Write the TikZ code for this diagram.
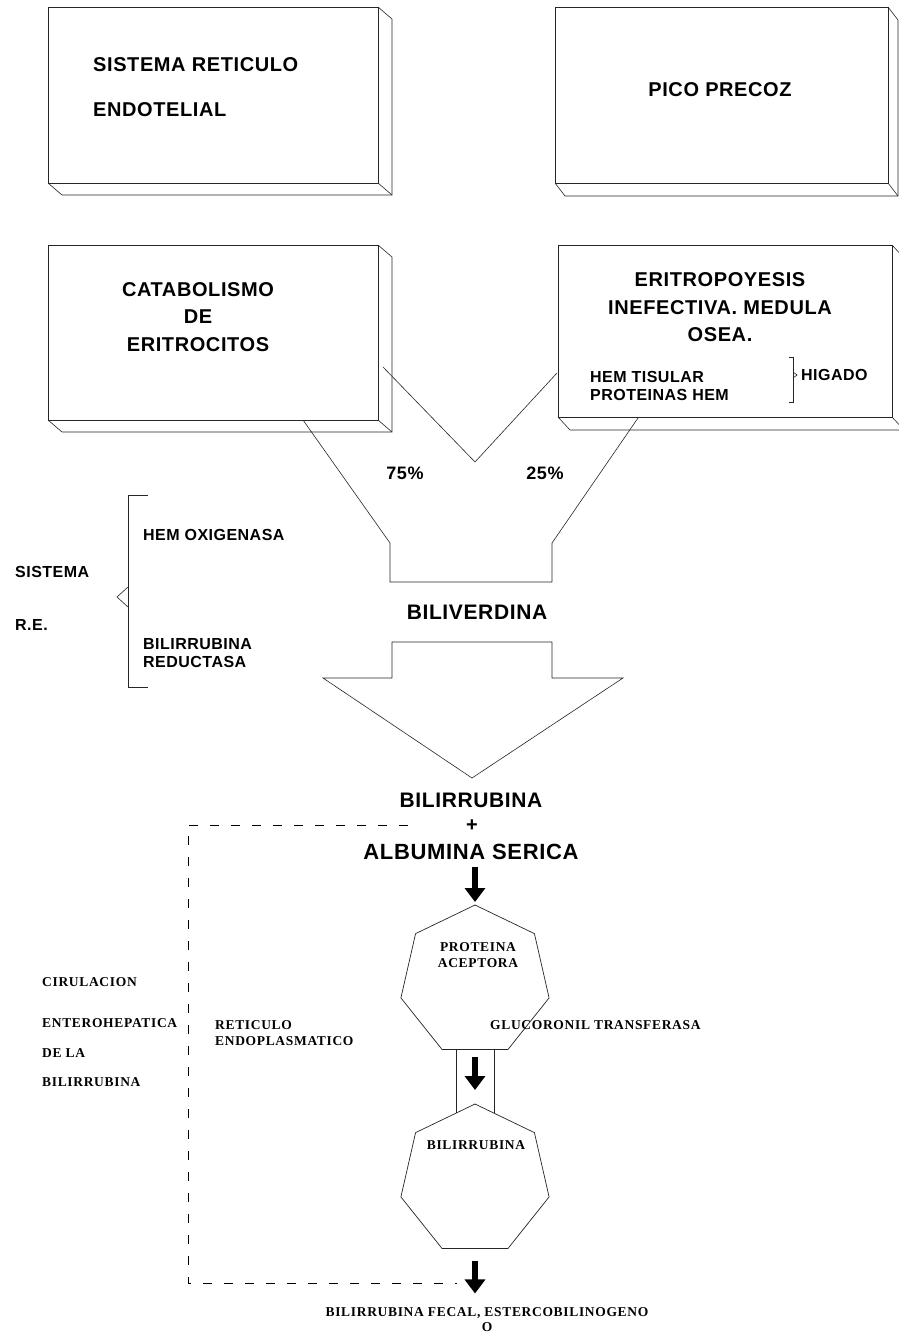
\documentclass[tikz,border=0pt]{standalone}
\usepackage{fontspec}
\setmainfont{Liberation Sans}
\newfontfamily\tsans[LetterSpace=3]{Liberation Sans}
\newfontfamily\tserif[LetterSpace=5]{Liberation Serif}
\usetikzlibrary{shapes.geometric,arrows.meta,calc}
\tikzset{
  edge/.style={line width=0.6pt, draw=black!85},
  slabbox/.style={draw=black!85, line width=0.6pt, inner sep=0pt, outer sep=0pt},
  big/.style={font=\tsans\bfseries\fontsize{20}{27.5}\selectfont, align=center, inner sep=0pt},
  mid/.style={font=\tsans\bfseries\fontsize{16}{18}\selectfont, align=left, inner sep=0pt},
  serif/.style={font=\tserif\bfseries\fontsize{13.5}{16}\selectfont, align=left, inner sep=0pt},
  hepta/.style={regular polygon, regular polygon sides=7, minimum size=152pt, inner sep=0pt, outer sep=0pt, draw=black!85, line width=0.7pt},
  blk/.style={line width=6pt, -{Triangle[width=20pt,length=14pt]}},
  dashbox/.style={line width=0.8pt, dash pattern=on 9pt off 12pt},
}
\newcommand\slab[3]{%
  \draw[edge] (#1.north east) -- ++(#2,#3) |- ([shift={(#2,#3)}]#1.south west) -- (#1.south west);
  \draw[edge] (#1.south east) -- ++(#2,#3);}
\begin{document}
\begin{tikzpicture}[x=1pt,y=-1pt]
\fill[white] (0,0) rectangle (898,1332);
\useasboundingbox (0,0) rectangle (898,1332);

% top boxes
\node[slabbox, minimum width=330pt, minimum height=176pt] (box1) at (213,95) {};
\slab{box1}{14}{12}
\node[big, anchor=west] (t1a) at (93,65) {SISTEMA RETICULO};
\node[big, anchor=west] (t1b) at (93,110) {ENDOTELIAL};

\node[slabbox, minimum width=333pt, minimum height=176pt] (box2) at (721.5,95) {};
\slab{box2}{10}{13}
\node[big] (t2) at (720,90) {PICO PRECOZ};

\node[slabbox, minimum width=330pt, minimum height=175pt] (box3) at (213,332.5) {};
\slab{box3}{14}{12}
\node[big] (t3) at (198,317) {CATABOLISMO\\DE\\ERITROCITOS};

\node[slabbox, minimum width=334pt, minimum height=172pt] (box4) at (725,331) {};
\slab{box4}{12}{13}
\node[big] (t4) at (720,307.5) {ERITROPOYESIS\\INEFECTIVA. MEDULA\\OSEA.};
\node[mid, anchor=west] (hem) at (590,386) {HEM TISULAR\\PROTEINAS HEM};
\draw[edge] (789,357) -- (793,357) -- (793,402) -- (789,402);
\draw[edge] (793,372) -- (797,375) -- (793,378);
\node[mid, anchor=west] (hig) at (801,375) {HIGADO};

% V and funnel
\draw[edge] (383,367) -- (475,462) -- (557,373);
\draw[edge] (303,420) -- (390,543) -- (390,582) -- (552,582) -- (552,543) -- (638,418);
\node[font=\tsans\bfseries\fontsize{18}{20}\selectfont, inner sep=0pt] (p75) at (405,473) {75\%};
\node[font=\tsans\bfseries\fontsize{18}{20}\selectfont, inner sep=0pt] (p25) at (545,473) {25\%};

\node[font=\tsans\bfseries\fontsize{21}{24}\selectfont, inner sep=0pt] (bilv) at (477,612) {BILIVERDINA};

% big down arrow
\draw[edge] (392,642) -- (552,642) -- (552,678) -- (623,678) -- (472,778) -- (323,678) -- (392,678) -- cycle;

% left bracket
\draw[edge] (148,495) -- (128,495) -- (128,687) -- (148,687);
\draw[edge] (128,587) -- (117,597) -- (128,607);
\node[mid, anchor=west] (sis) at (15,572) {SISTEMA};
\node[mid, anchor=west] (re) at (15,625) {R.E.};
\node[mid, anchor=west] (hox) at (143,535) {HEM OXIGENASA};
\node[mid, anchor=west] (bred) at (143,653) {BILIRRUBINA\\REDUCTASA};

% bilirrubina + albumina
\node[font=\tsans\bfseries\fontsize{21}{24}\selectfont, inner sep=0pt] (bilr) at (471,800) {BILIRRUBINA};
\node[font=\tsans\bfseries\fontsize{20}{24}\selectfont, inner sep=0pt] (plus) at (472,826) {+};
\node[font=\tsans\bfseries\fontsize{22}{24}\selectfont, inner sep=0pt] (alb) at (471,852) {ALBUMINA SERICA};

% dashed region
\draw[dashbox] (408,825) -- (188,825) -- (188,1283) -- (457,1283);

% heptagons
\node[hepta] (hep1) at (475,981) {};
\node[hepta] (hep2) at (475,1180) {};
\node[serif, align=center] (prot) at (478,955) {PROTEINA\\ACEPTORA};
\node[serif, anchor=west] (gluc) at (490,1025) {GLUCORONIL TRANSFERASA};
\node[serif, align=center] (bil2) at (476,1145) {BILIRRUBINA};
\draw[edge] (456,1049.5) -- (456,1113);
\draw[edge] (494,1049.5) -- (494,1113);

\draw[blk] ([yshift=-7pt]alb.south -| hep1.north) -- ([yshift=3pt]hep1.north);
\draw[blk] ([yshift=-8pt]hep1.south) -- ([yshift=14pt]hep2.north);
\draw[blk] ([yshift=-13pt]hep2.south) -- ([yshift=-45pt]hep2.south);

\node[serif, anchor=west] (ret) at (215,1033) {RETICULO\\ENDOPLASMATICO};
\node[serif, anchor=west] (c1) at (42,982) {CIRULACION};
\node[serif, anchor=west] (c2) at (42,1023) {ENTEROHEPATICA};
\node[serif, anchor=west] (c3) at (42,1053) {DE LA};
\node[serif, anchor=west] (c4) at (42,1082) {BILIRRUBINA};

\node[serif] (fecal) at (487,1313) {BILIRRUBINA FECAL, ESTERCOBILINOGENO};
\node[serif] (ooo) at (487,1327) {O};
\end{tikzpicture}
\end{document}
